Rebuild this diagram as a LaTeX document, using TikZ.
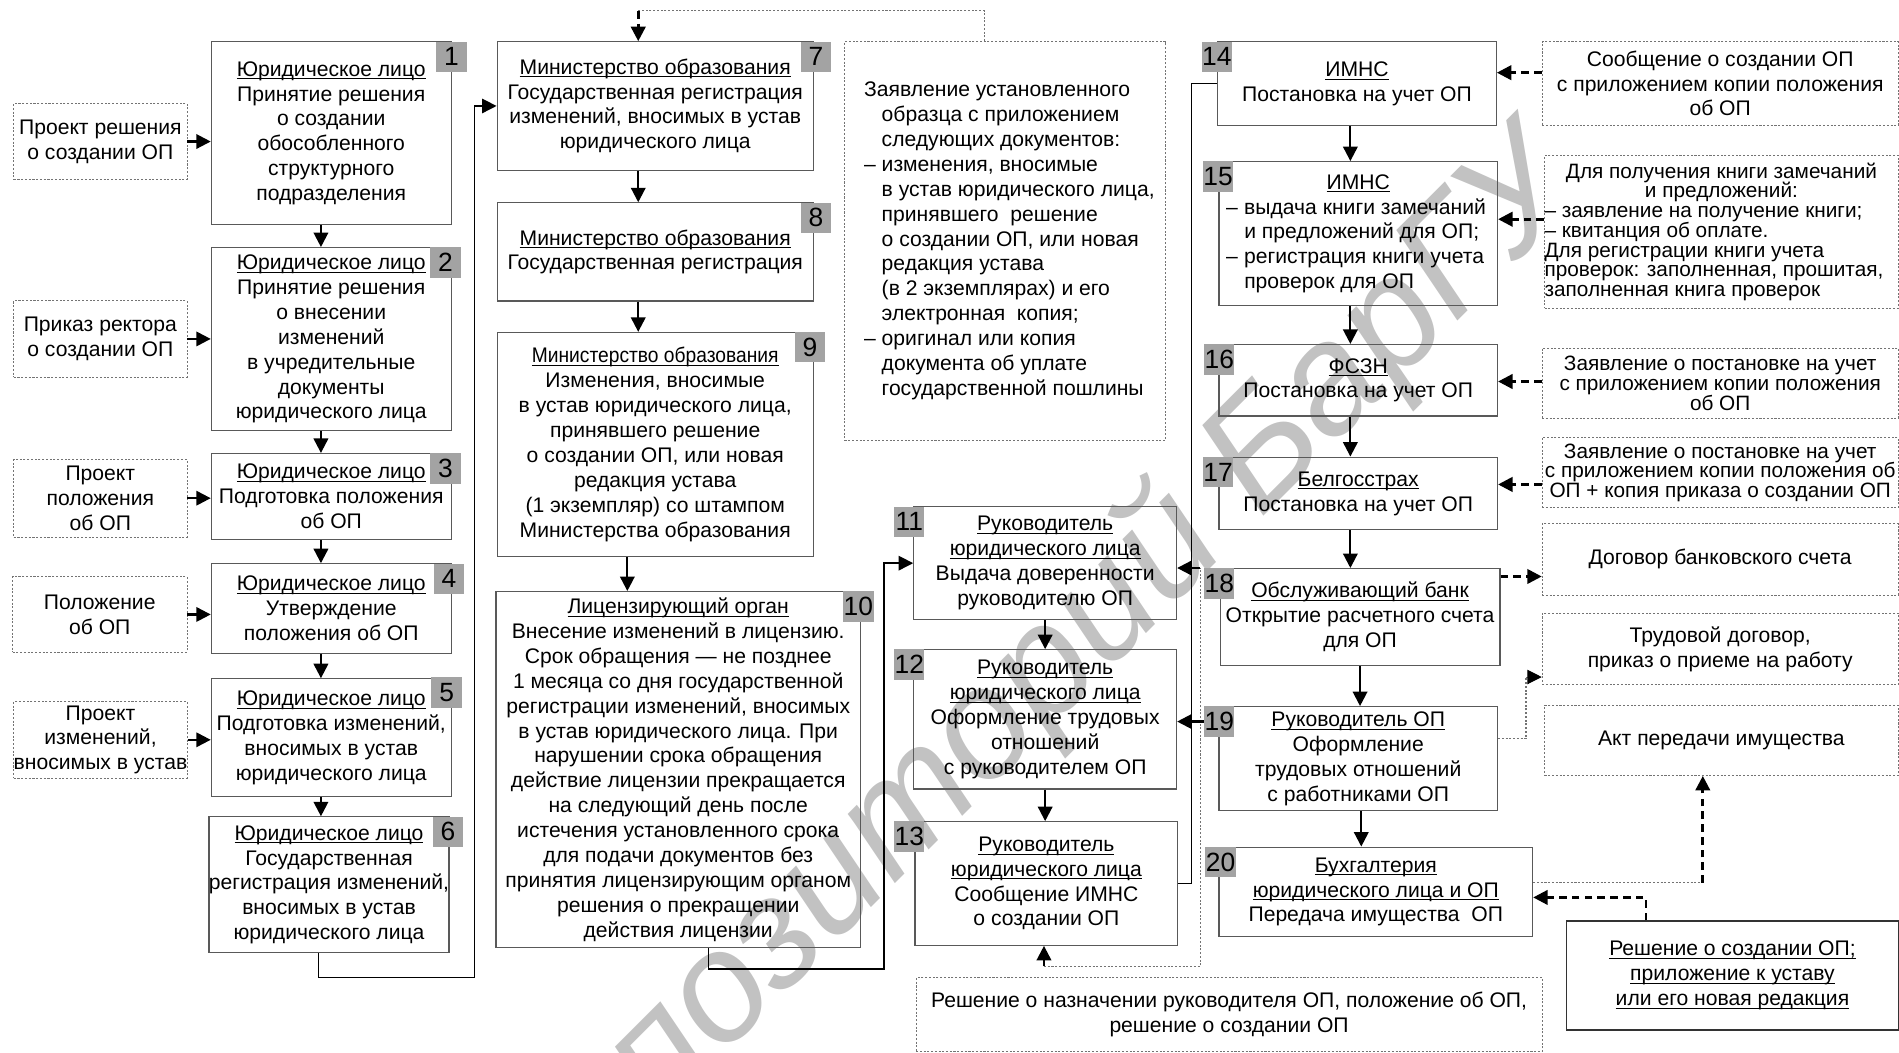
\documentclass[tikz,border=0pt]{standalone}
\usepackage{fontspec}
\setmainfont{Liberation Sans}
\usepackage{graphicx}
\usetikzlibrary{arrows.meta}
\usetikzlibrary{positioning}

\definecolor{boxgray}{gray}{0.35}
\definecolor{taggray}{gray}{0.64}
\definecolor{dotgray}{gray}{0.45}
\definecolor{wmgray}{gray}{0.76}

\newcommand{\pxl}{0.025cm}
\newcommand{\dashind}{\hphantom{– }}
\newcommand{\lpad}{\hspace*{0.18cm}}
\newcommand{\tightfont}{\fontsize{12.2}{11.6}\selectfont\lineskiplimit=-\maxdimen}
\newsavebox{\ulbox}
\newcommand{\ulin}[1]{\leavevmode\sbox{\ulbox}{#1}\rlap{\rule[-1.9pt]{\wd\ulbox}{0.6pt}}\usebox{\ulbox}}

\begin{document}
\begin{tikzpicture}[x=\pxl, y=-\pxl,
    font={\fontsize{12.4}{14.6}\selectfont\lineskiplimit=-\maxdimen},
    box/.style 2 args={draw=boxgray, line width=0.7pt, anchor=north west,
        inner sep=0pt, align=center, minimum width=#1*\pxl, minimum height=#2*\pxl},
    docbox/.style 2 args={box={#1}{#2}, draw=dotgray, line width=0.5pt,
        dash pattern=on 1.2pt off 1pt},
    tag/.style={fill=taggray, anchor=north west, inner sep=0pt,
        minimum width=25*\pxl, minimum height=25*\pxl,
        font=\fontsize{15.5}{15.5}\selectfont},
    conn/.style={line width=0.85pt},
    connarr/.style={line width=0.85pt, -{Triangle[length=8.5pt,width=8.5pt]}},
    arr/.style={line width=1.3pt, -{Triangle[length=8.5pt,width=8.5pt]}},
    dasharr/.style={line width=1.6pt, dash pattern=on 4.5pt off 3pt,
        -{Triangle[length=8.5pt,width=8.5pt]}},
    dotline/.style={draw=dotgray, line width=0.6pt, dash pattern=on 1.2pt off 1pt},
    dotarr/.style={dotline, -{Triangle[length=8.5pt,width=8.5pt,color=black]}}]
    \useasboundingbox (0,0) rectangle (1568,869);
    \begin{scope}
        \clip (0,0) rectangle (1568,869);
        \node[wmgray, rotate=45, anchor=base, font={\fontsize{91.5}{91.5}\selectfont\itshape}] (wm) at (872,597) {Репозиторий БарГУ};
    \end{scope}

    \node[docbox={143}{63}] (d1) at (11,85) {Проект решения\\о создании ОП};
    \node[docbox={143}{63}] (d2) at (11,248) {Приказ ректора\\о создании ОП};
    \node[docbox={143}{64}] (d3) at (11,379) {Проект\\положения\\об ОП};
    \node[docbox={144}{62}] (d4) at (10,476) {Положение\\об ОП};
    \node[docbox={143}{63}] (d5) at (11,579) {Проект\\изменений,\\вносимых в устав};

    \node[box={198}{151}] (b1) at (174,34) {\ulin{Юридическое лицо}\\Принятие решения\\о создании\\обособленного\\структурного\\подразделения};
    \node[tag] (t1) at (360,34) {1};
    \node[box={198}{151}] (b2) at (174,204) {\ulin{Юридическое лицо}\\Принятие решения\\о внесении\\изменений\\в учредительные\\документы\\юридического лица};
    \node[tag] (t2) at (355,204) {2};
    \node[box={198}{71}] (b3) at (174,374) {\ulin{Юридическое лицо}\\Подготовка положения\\об ОП};
    \node[tag] (t3) at (355,374) {3};
    \node[box={198}{74}] (b4) at (174,465) {\ulin{Юридическое лицо}\\Утверждение\\положения об ОП};
    \node[tag] (t4) at (358,465) {4};
    \node[box={198}{97}] (b5) at (174,560) {\ulin{Юридическое лицо}\\Подготовка изменений,\\вносимых в устав\\юридического лица};
    \node[tag] (t5) at (356,559) {5};
    \node[box={198}{112}] (b6) at (172,674) {\ulin{Юридическое лицо}\\Государственная\\регистрация изменений,\\вносимых в устав\\юридического лица};
    \node[tag] (t6) at (357,674) {6};

    \node[box={261}{106}] (b7) at (410,34) {\ulin{Министерство образования}\\Государственная регистрация\\изменений, вносимых в устав\\юридического лица};
    \node[tag] (t7) at (661,34) {7};
    \node[box={261}{81}] (b8) at (410,167) {\ulin{Министерство образования}\\Государственная регистрация};
    \node[tag] (t8) at (661,167) {8};
    \node[box={261}{185}] (b9) at (410,274) {\ulin{\scalebox{0.91}[1]{Министерство образования}}\\Изменения, вносимые\\в устав юридического лица,\\принявшего решение\\о создании ОП, или новая\\редакция устава\\(1 экземпляр) со штампом\\Министерства образования};
    \node[tag] (t9) at (656,274) {9};
    \node[box={301}{294}] (b10) at (409,488) {\ulin{Лицензирующий орган}\\Внесение изменений в лицензию.\\Срок обращения — не позднее\\1 месяца со дня государственной\\регистрации изменений, вносимых\\в устав юридического лица. При\\нарушении срока обращения\\действие лицензии прекращается\\на следующий день после\\истечения установленного срока\\для подачи документов без\\принятия лицензирующим органом\\решения о прекращении\\действия лицензии};
    \node[tag] (t10) at (696,488) {10};

    \node[docbox={265}{329}, align=left] (dbig) at (697,34) {\lpad Заявление установленного\\
        \lpad\dashind образца с приложением\\
        \lpad\dashind следующих документов:\\
        \lpad– изменения, вносимые\\
        \lpad\dashind в устав юридического лица,\\
        \lpad\dashind принявшего\ \ решение\\
        \lpad\dashind о создании ОП, или новая\\
        \lpad\dashind редакция устава\\
        \lpad\dashind (в 2 экземплярах) и его\\
        \lpad\dashind электронная\ \ копия;\\
        \lpad– оригинал или копия\\
        \lpad\dashind документа об уплате\\
        \lpad\dashind государственной пошлины};

    \node[box={217}{93}] (b11) at (754,418) {\ulin{Руководитель}\\\ulin{юридического лица}\\Выдача доверенности\\руководителю ОП};
    \node[tag] (t11) at (738,418) {11};
    \node[box={217}{115}] (b12) at (754,536) {\ulin{Руководитель}\\\ulin{юридического лица}\\Оформление трудовых\\отношений\\с руководителем ОП};
    \node[tag] (t12) at (738,536) {12};
    \node[box={217}{102}] (b13) at (755,678) {\ulin{Руководитель}\\\ulin{юридического лица}\\Сообщение ИМНС\\о создании ОП};
    \node[tag] (t13) at (738,678) {13};
    \node[docbox={517}{61}] (bnazn) at (756,807) {Решение о назначении руководителя ОП, положение об ОП,\\решение о создании ОП};

    \node[box={230}{69}] (b14) at (1005,34) {\ulin{ИМНС}\\Постановка на учет ОП};
    \node[tag] (t14) at (992,34) {14};
    \node[box={230}{119}, align=left] (b15) at (1006,133) {\makebox[5.45cm]{\ulin{ИМНС}}\\
        \makebox[10.6pt][l]{–}выдача книги замечаний\\
        \hspace*{10.6pt}и предложений для ОП;\\
        \makebox[10.6pt][l]{–}регистрация книги учета\\
        \hspace*{10.6pt}проверок для ОП};
    \node[tag] (t15) at (993,133) {15};
    \node[box={230}{59}] (b16) at (1006,284) {\ulin{ФСЗН}\\Постановка на учет ОП};
    \node[tag] (t16) at (994,284) {16};
    \node[box={230}{60}] (b17) at (1006,377) {\ulin{Белгосстрах}\\Постановка на учет ОП};
    \node[tag] (t17) at (993,377) {17};
    \node[box={231}{80}] (b18) at (1007,469) {\ulin{Обслуживающий банк}\\Открытие расчетного счета\\для ОП};
    \node[tag] (t18) at (994,469) {18};
    \node[box={230}{86}] (b19) at (1006,583) {\ulin{Руководитель ОП}\\Оформление\\трудовых отношений\\с работниками ОП};
    \node[tag] (t19) at (994,583) {19};
    \node[box={259}{74}] (b20) at (1006,699) {\ulin{Бухгалтерия}\\\ulin{юридического лица и ОП}\\Передача имущества\ \ ОП};
    \node[tag] (t20) at (995,699) {20};

    \node[docbox={294}{69}] (r14) at (1273,34) {Сообщение о создании ОП\\с приложением копии положения\\об ОП};
    \node[docbox={292}{126}, align=left, font=\tightfont] (r15) at (1275,128) {\makebox[7.3cm]{Для получения книги замечаний}\\
        \makebox[7.3cm]{и предложений:}\\
        – заявление на получение книги;\\
        – квитанция об оплате.\\
        Для регистрации книги учета\\
        проверок: заполненная, прошитая,\\
        заполненная книга проверок};
    \node[docbox={294}{58}, font=\tightfont] (r16) at (1273,287) {Заявление о постановке на учет\\с приложением копии положения\\об ОП};
    \node[docbox={294}{58}, font=\tightfont] (r17) at (1273,361) {Заявление о постановке на учет\\с приложением копии положения об\\ОП + копия приказа о создании ОП};
    \node[docbox={294}{59}] (r18) at (1273,432) {Договор банковского счета};
    \node[docbox={294}{59}] (r19) at (1273,506) {Трудовой договор,\\приказ о приеме на работу};
    \node[docbox={292}{58}] (r20) at (1275,582) {Акт передачи имущества};
    \node[box={274}{90}, draw=black!80] (rsol) at (1293,760) {\ulin{Решение о создании ОП;}\\\ulin{приложение к уставу}\\\ulin{или его новая редакция}};

    \draw[arr] (d1.east) -- (d1.east -| b1.west);
    \draw[arr] (d2.east) -- (d2.east -| b2.west);
    \draw[arr] (d3.east) -- (d3.east -| b3.west);
    \draw[arr] (d4.east) -- (d4.east -| b4.west);
    \draw[arr] (d5.east) -- (d5.east -| b5.west);

    \coordinate (a1) at (265,0);
    \draw[arr] (b1.south -| a1) -- (b2.north -| a1);
    \draw[arr] (b2.south -| a1) -- (b3.north -| a1);
    \draw[arr] (b3.south -| a1) -- (b4.north -| a1);
    \draw[arr] (b4.south -| a1) -- (b5.north -| a1);
    \draw[arr] (b5.south -| a1) -- (b6.north -| a1);
    \coordinate (c0) at (263,0);
    \coordinate (c1) at (392,807);
    \draw[connarr] (b6.south -| c0) |- (c1) |- (b7.west);

    \coordinate (a2) at (527,0);
    \draw[arr] (b7.south -| a2) -- (b8.north -| a2);
    \draw[arr] (b8.south -| a2) -- (b9.north -| a2);
    \coordinate (a3) at (518,0);
    \draw[arr] (b9.south -| a3) -- (b10.north -| a3);
    \coordinate (c2) at (527,9);
    \coordinate (c3) at (813,0);
    \draw[dotline] (dbig.north -| c3) |- (c2);
    \draw[dasharr] (c2) -- (b7.north -| c2);
    \coordinate (c4) at (585,0);
    \coordinate (c5) at (730,800);
    \draw[connarr] (b10.south -| c4) |- (c5) |- (b11.west);

    \draw[arr] (b11.south) -- (b11.south |- b12.north);
    \draw[arr] (b12.south) -- (b12.south |- b13.north);
    \coordinate (p1) at (862,798);
    \coordinate (p2) at (991,469);
    \draw[dotline] (p1) -| (p2);
    \draw[arr] (p1) -- (p1 |- b13.south);
    \draw[arr] (p2) -- (p2 -| b11.east);
    \coordinate (c6) at (984,400);
    \draw[conn] (b14.west) -| (c6) |- (b13.east);
    \draw[arr] (t19.west) -- (t19.west -| b12.east);

    \coordinate (a4) at (1115,0);
    \draw[arr] (b14.south -| a4) -- (b15.north -| a4);
    \draw[arr] (b15.south -| a4) -- (b16.north -| a4);
    \draw[arr] (b16.south -| a4) -- (b17.north -| a4);
    \draw[arr] (b17.south -| a4) -- (b18.north -| a4);
    \draw[arr] (b18.south) -- (b18.south |- b19.north);
    \coordinate (a5) at (1124,0);
    \draw[arr] (b19.south -| a5) -- (b20.north -| a5);

    \coordinate (e14) at (0,60);
    \draw[dasharr] (r14.west |- e14) -- (b14.east |- e14);
    \coordinate (e15) at (0,181);
    \draw[dasharr] (r15.west |- e15) -- (b15.east |- e15);
    \coordinate (e16) at (0,315);
    \draw[dasharr] (r16.west |- e16) -- (b16.east |- e16);
    \coordinate (e17) at (0,400);
    \draw[dasharr] (r17.west |- e17) -- (b17.east |- e17);
    \coordinate (e18) at (0,476);
    \draw[dasharr] (b18.east |- e18) -- (r18.west |- e18);
    \coordinate (f19) at (0,610);
    \coordinate (e19) at (1260,559);
    \draw[dotarr] (b19.east |- f19) -| (e19) -- (e19 -| r19.west);
    \coordinate (e20) at (1406,729);
    \draw[dotline] (b20.east |- e20) -- (e20);
    \draw[dasharr] (e20) -- (e20 |- r20.south);
    \coordinate (e21) at (1359,741);
    \draw[dasharr] (e21 |- rsol.north) -- (e21) -- (e21 -| b20.east);
\end{tikzpicture}
\end{document}
